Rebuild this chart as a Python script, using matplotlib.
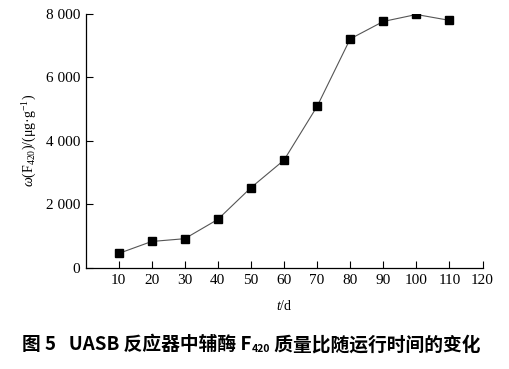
import matplotlib.pyplot as plt
from matplotlib.ticker import FuncFormatter

days = [10, 20, 30, 40, 50, 60, 70, 80, 90, 100, 110]
f420 = [443, 822, 910, 1519, 2520, 3390, 5085, 7215, 7765, 7985, 7800]

xticks = [10, 20, 30, 40, 50, 60, 70, 80, 90, 100, 110, 120]
yticks = [0, 2000, 4000, 6000, 8000]

cap_head = "图 5   UASB 反应器中辅酶 F"
cap_sub = "420"
cap_tail = " 质量比随运行时间的变化"


def thousands(v, pos):
    return ("{:,.0f}".format(v)).replace(",", " ")


def main():
    plt.rcParams["font.family"] = ["Liberation Serif", "DejaVu Serif"]
    plt.rcParams["mathtext.fontset"] = "custom"
    plt.rcParams["mathtext.rm"] = "Liberation Serif"
    plt.rcParams["mathtext.it"] = "Liberation Serif:italic"

    fig = plt.figure(figsize=(5.09, 3.69), dpi=100)
    ax = fig.add_axes([0.168, 0.275, 0.780, 0.687])

    ax.plot(days, f420, color="#555555", lw=0.8, marker="s", ms=5.5,
            mfc="black", mec="black")

    ax.set_xlim(0, 120)
    ax.set_ylim(0, 8000)
    ax.set_xticks(xticks)
    ax.set_yticks(yticks)
    ax.yaxis.set_major_formatter(FuncFormatter(thousands))
    ax.tick_params(direction="in", length=5, width=0.8, labelsize=11)
    ax.tick_params(axis="x", pad=5)
    ax.tick_params(axis="y", pad=4)
    for s in ["top", "right"]:
        ax.spines[s].set_visible(False)
    for s in ["left", "bottom"]:
        ax.spines[s].set_linewidth(0.9)

    ax.set_xlabel("$t$/d", fontsize=10, labelpad=8)
    ax.set_ylabel(r"$\omega$(F$_{420}$)/(μg·g$^{-1}$)", fontsize=10,
                  labelpad=5)

    # caption with a real subscript, built from three pieces
    cjk = ["Noto Sans CJK SC", "DejaVu Sans"]
    fig.canvas.draw()
    r = fig.canvas.get_renderer()
    t1 = fig.text(22 / 509, 0.066, cap_head, fontsize=13.5, fontweight="bold",
                  family=cjk, va="center")
    bb = t1.get_window_extent(r)
    x2 = bb.x1 / fig.bbox.width
    t2 = fig.text(x2, 0.066 - 0.012, cap_sub, fontsize=7.5, fontweight="bold",
                  family=cjk, va="center")
    bb2 = t2.get_window_extent(r)
    x3 = bb2.x1 / fig.bbox.width
    fig.text(x3, 0.066, cap_tail, fontsize=13.5, fontweight="bold",
             family=cjk, va="center")

    fig.savefig("out.png", dpi=100)


if __name__ == "__main__": main()
